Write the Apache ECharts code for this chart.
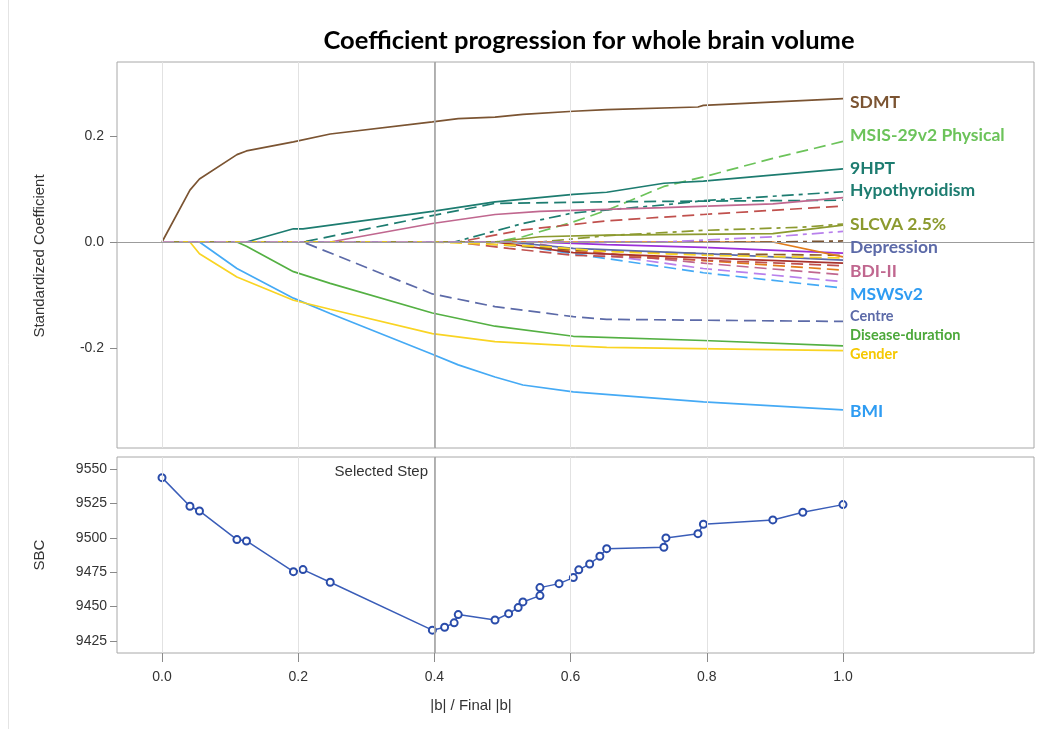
<!DOCTYPE html>
<html lang="en">
<head>
<meta charset="UTF-8">
<title>Coefficient progression for whole brain volume</title>
<script src="https://cdn.jsdelivr.net/npm/echarts@6.0.0/dist/echarts.min.js"></script>
<style>html,body{margin:0;padding:0;background:#fff;}</style>
</head>
<body>
<div id="main" style="width:1047px;height:729px;"></div>
<script>
// tick labels
var xTicks = [0, 0.2, 0.4, 0.6, 0.8, 1.0];
var coefTicks = [-0.2, 0, 0.2];
var sbcTicks = [9425, 9450, 9475, 9500, 9525, 9550];
var selectedStep = 0.4;

// SBC at each step
var sbcSteps = [0, 0.041, 0.055, 0.110, 0.124, 0.193, 0.207, 0.247, 0.397, 0.415, 0.429, 0.435, 0.489, 0.509, 0.523, 0.530,
    0.555, 0.555, 0.583, 0.604, 0.612, 0.628, 0.643, 0.653, 0.737, 0.740, 0.787, 0.795, 0.897, 0.941, 1.0];
var sbcValues = [9543.7, 9522.9, 9519.5, 9498.7, 9497.7, 9475.4, 9476.9, 9467.7, 9432.9, 9435.0, 9438.2, 9444.2, 9440.3, 9444.9, 9449.3, 9453.4,
    9458.0, 9463.8, 9466.7, 9471.1, 9476.7, 9481.0, 9486.6, 9492.1, 9493.1, 9499.9, 9503.0, 9509.8, 9513.0, 9518.6, 9524.1];

// coefficient paths [|b|/final |b|, standardized coefficient]
var sdmt = [[0,0],[0.041,0.098],[0.055,0.119],[0.110,0.165],[0.124,0.172],[0.193,0.189],[0.247,0.204],[0.397,0.227],[0.435,0.233],[0.489,0.236],[0.530,0.241],[0.604,0.247],[0.653,0.250],[0.787,0.255],[0.795,0.258],[1.0,0.271]];
var msis = [[0,0],[0.489,0],[0.530,0.010],[0.604,0.038],[0.653,0.060],[0.687,0.078],[0.737,0.105],[0.795,0.123],[0.897,0.158],[1.0,0.190]];
var hpt9 = [[0,0],[0.124,0],[0.193,0.025],[0.207,0.025],[0.397,0.058],[0.489,0.076],[0.604,0.090],[0.653,0.094],[0.737,0.111],[0.795,0.115],[1.0,0.138]];
var hypothyroidism = [[0,0],[0.429,0],[0.530,0.035],[0.604,0.055],[0.737,0.070],[0.795,0.078],[1.0,0.095]];
var tealDash = [[0,0],[0.207,0],[0.397,0.050],[0.489,0.073],[0.653,0.076],[1.0,0.079]];
var pinkSolid = [[0,0],[0.247,0],[0.397,0.035],[0.489,0.052],[0.555,0.058],[0.737,0.065],[0.897,0.072],[1.0,0.084]];
var redDashUp = [[0,0],[0.435,0],[0.530,0.023],[0.653,0.040],[0.795,0.052],[1.0,0.068]];
var slcva = [[0,0],[0.555,0],[0.653,0.012],[0.795,0.022],[0.941,0.028],[1.0,0.034]];
var oliveSolid = [[0,0],[0.489,0],[0.555,0.010],[0.653,0.013],[0.897,0.016],[1.0,0.032]];
var purpleDashDot = [[0,0],[0.737,0],[0.897,0.010],[1.0,0.020]];
var brownDashDot = [[0,0],[0.897,0],[1.0,0.002]];
var orangeSolid = [[0,0],[0.897,0],[1.0,-0.028]];
var purpleSolid = [[0,0],[0.555,0],[0.653,-0.005],[0.795,-0.010],[1.0,-0.021]];
var depression = [[0,0],[0.509,0],[0.604,-0.012],[0.795,-0.022],[1.0,-0.034]];
var yellowDash = [[0,0],[0.397,0],[0.555,-0.008],[0.653,-0.018],[0.795,-0.025],[1.0,-0.030]];
var orangeDash = [[0,0],[0.489,0],[0.604,-0.018],[0.795,-0.035],[1.0,-0.053]];
var bdi = [[0,0],[0.530,0],[0.653,-0.022],[0.795,-0.040],[1.0,-0.062]];
var lilacDash = [[0,0],[0.530,0],[0.653,-0.025],[0.795,-0.050],[1.0,-0.075]];
var msws = [[0,0],[0.489,0],[0.604,-0.022],[0.795,-0.058],[1.0,-0.087]];
var redDashDown = [[0,0],[0.429,0],[0.509,-0.012],[0.604,-0.025],[0.737,-0.031],[1.0,-0.045]];
var darkRed = [[0,0],[0.489,0],[0.604,-0.020],[0.795,-0.030],[1.0,-0.040]];
var brownDash = [[0,0],[0.435,0],[0.604,-0.015],[0.795,-0.022],[1.0,-0.025]];
var centre = [[0,0],[0.207,0],[0.397,-0.098],[0.489,-0.122],[0.604,-0.141],[0.653,-0.146],[1.0,-0.150]];
var diseaseDuration = [[0,0],[0.110,0],[0.124,-0.008],[0.193,-0.056],[0.247,-0.078],[0.397,-0.134],[0.489,-0.159],[0.604,-0.178],[0.795,-0.186],[1.0,-0.196]];
var gender = [[0,0],[0.041,0],[0.055,-0.022],[0.110,-0.066],[0.193,-0.110],[0.247,-0.127],[0.397,-0.173],[0.489,-0.188],[0.604,-0.196],[0.653,-0.199],[1.0,-0.205]];
var bmi = [[0,0],[0.055,0],[0.110,-0.050],[0.193,-0.106],[0.247,-0.135],[0.397,-0.212],[0.435,-0.232],[0.489,-0.255],[0.530,-0.270],[0.604,-0.283],[0.795,-0.302],[1.0,-0.317]];

var DASH = [12, 6], DASHDOT = [12, 5, 4, 5];

// drawing order: later ones sit on top at the zero line
var paths = [
    {name: 'SDMT', data: sdmt, color: '#7b5432', dash: 'solid'},
    {name: 'MSIS-29v2 Physical', data: msis, color: '#6cc35a', dash: DASH},
    {name: '9HPT', data: hpt9, color: '#1d7c70', dash: 'solid'},
    {name: 'Hypothyroidism', data: hypothyroidism, color: '#1d7c70', dash: DASHDOT},
    {name: 'teal dash', data: tealDash, color: '#1d7c70', dash: DASH},
    {name: 'pink', data: pinkSolid, color: '#c0678f', dash: 'solid'},
    {name: 'red up', data: redDashUp, color: '#c0504d', dash: DASH},
    {name: 'BMI', data: bmi, color: '#45aaf5', dash: 'solid'},
    {name: 'Gender', data: gender, color: '#f9d423', dash: 'solid'},
    {name: 'Disease-duration', data: diseaseDuration, color: '#54b043', dash: 'solid'},
    {name: 'Centre', data: centre, color: '#5c6aa8', dash: DASH},
    {name: 'MSWSv2', data: msws, color: '#45aaf5', dash: DASH},
    {name: 'lilac', data: lilacDash, color: '#b880ec', dash: DASH},
    {name: 'BDI-II', data: bdi, color: '#c0678f', dash: DASH},
    {name: 'orange dash', data: orangeDash, color: '#e07b1a', dash: DASH},
    {name: 'dark red', data: darkRed, color: '#a8322c', dash: 'solid'},
    {name: 'red down', data: redDashDown, color: '#c0504d', dash: DASH},
    {name: 'brown dash', data: brownDash, color: '#8b5a2b', dash: DASH},
    {name: 'Depression', data: depression, color: '#5c6aa8', dash: 'solid'},
    {name: 'purple', data: purpleSolid, color: '#9b30d9', dash: 'solid'},
    {name: 'orange', data: orangeSolid, color: '#e07b1a', dash: 'solid'},
    {name: 'brown dashdot', data: brownDashDot, color: '#7b5432', dash: DASHDOT},
    {name: 'SLCVA 2.5%', data: slcva, color: '#8c9a2f', dash: DASHDOT},
    {name: 'olive', data: oliveSolid, color: '#8c9a2f', dash: 'solid'},
    {name: 'yellow dash', data: yellowDash, color: '#f9d423', dash: DASH},
    {name: 'purple dashdot', data: purpleDashDot, color: '#b880ec', dash: DASHDOT}
];

var labelFont = 'bold 17.5px Lato';
var smallFont = 'bold 14.5px Lato';
var sideLabels = [
    {text: 'SDMT', y: 102, color: '#7b5432', font: labelFont},
    {text: 'MSIS-29v2 Physical', y: 135, color: '#6cc35a', font: labelFont},
    {text: '9HPT', y: 168, color: '#1d7c70', font: labelFont},
    {text: 'Hypothyroidism', y: 190, color: '#1d7c70', font: labelFont},
    {text: 'SLCVA 2.5%', y: 224, color: '#8c9a2f', font: labelFont},
    {text: 'Depression', y: 247, color: '#5c6aa8', font: labelFont},
    {text: 'BDI-II', y: 271, color: '#c0678f', font: labelFont},
    {text: 'MSWSv2', y: 294, color: '#2f9cf2', font: labelFont},
    {text: 'Centre', y: 316, color: '#5c6aa8', font: smallFont},
    {text: 'Disease-duration', y: 335, color: '#4ca83a', font: smallFont},
    {text: 'Gender', y: 354, color: '#f5c800', font: smallFont},
    {text: 'BMI', y: 411, color: '#2f9cf2', font: labelFont}
];

var myChart = echarts.init(document.getElementById('main'));

var xMin = -0.0661, xMax = 1.2805;
function ticks(vals, len) {
    return {show: true, customValues: vals, length: len, lineStyle: {color: '#8a8a8a'}};
}
function labels(vals, margin, fmt) {
    return {customValues: vals, margin: margin, formatter: fmt, color: '#333', fontSize: 14, fontFamily: 'Liberation Sans'};
}
var oneDecimal = function (v) { return v.toFixed(1); };
var plain = function (v) { return String(v); };

function gridLines(extra) {
    var data = xTicks.map(function (v) {
        return {xAxis: v, lineStyle: {color: '#e2e2e2', width: 1, type: 'solid'}};
    });
    data.push({xAxis: selectedStep, lineStyle: {color: '#9c9c9c', width: 1.5, type: 'solid'}});
    return {
        silent: true,
        symbol: ['none', 'none'],
        label: {show: false},
        animation: false,
        data: data.concat(extra || [])
    };
}

var series = [
    {
        type: 'line', xAxisIndex: 0, yAxisIndex: 0, data: [], z: 1,
        markLine: gridLines([{yAxis: 0, lineStyle: {color: '#9c9c9c', width: 1.2, type: 'solid'}}])
    },
    {
        type: 'line', xAxisIndex: 1, yAxisIndex: 1, data: [], z: 1,
        markLine: gridLines()
    }
];

paths.forEach(function (p) {
    series.push({
        name: p.name,
        type: 'line',
        xAxisIndex: 0,
        yAxisIndex: 0,
        data: p.data,
        showSymbol: false,
        symbol: 'none',
        z: 3,
        lineStyle: {color: p.color, width: 1.7, type: p.dash}
    });
});

series.push({
    name: 'SBC',
    type: 'line',
    xAxisIndex: 1,
    yAxisIndex: 1,
    data: sbcSteps.map(function (x, i) { return [x, sbcValues[i]]; }),
    symbol: 'emptyCircle',
    symbolSize: 7,
    z: 3,
    lineStyle: {color: '#3a5db8', width: 1.5},
    itemStyle: {color: '#2a4caa', borderWidth: 1.6}
});

var graphics = [
    {type: 'line', shape: {x1: 8.5, y1: 0, x2: 8.5, y2: 729}, style: {stroke: '#e4e4e4', lineWidth: 1}},
    {type: 'text', x: 589, y: 41, style: {text: 'Coefficient progression for whole brain volume', font: 'bold 25.5px Lato', fill: '#000', align: 'center', verticalAlign: 'middle'}},
    {type: 'text', x: 40, y: 256, rotation: Math.PI / 2, style: {text: 'Standardized Coefficient', font: '15px "Liberation Sans"', fill: '#333', align: 'center', verticalAlign: 'middle'}},
    {type: 'text', x: 40, y: 555, rotation: Math.PI / 2, style: {text: 'SBC', font: '15px "Liberation Sans"', fill: '#333', align: 'center', verticalAlign: 'middle'}},
    {type: 'text', x: 471, y: 706, style: {text: '|b| / Final |b|', font: '15px "Liberation Sans"', fill: '#333', align: 'center', verticalAlign: 'middle'}},
    {type: 'text', x: 428, y: 472, style: {text: 'Selected Step', font: '15px "Liberation Sans"', fill: '#333', align: 'right', verticalAlign: 'middle'}}
];
sideLabels.forEach(function (l) {
    graphics.push({type: 'text', x: 850, y: l.y, z: 10, style: {text: l.text, font: l.font, fill: l.color, align: 'left', verticalAlign: 'middle'}});
});

var option = {
    animation: false,
    backgroundColor: '#fff',
    grid: [
        {left: 117, top: 62, width: 917, height: 386, show: true, borderColor: '#a8a8a8', borderWidth: 1},
        {left: 117, top: 457, width: 917, height: 196, show: true, borderColor: '#a8a8a8', borderWidth: 1}
    ],
    xAxis: [
        {
            type: 'value', gridIndex: 0, min: xMin, max: xMax,
            axisLine: {show: false, onZero: false}, axisTick: {show: false}, axisLabel: {show: false}, splitLine: {show: false}
        },
        {
            type: 'value', gridIndex: 1, min: xMin, max: xMax, position: 'bottom',
            axisLine: {show: false, onZero: false},
            axisTick: ticks(xTicks, 9),
            axisLabel: labels(xTicks, 17, oneDecimal),
            splitLine: {show: false}
        }
    ],
    yAxis: [
        {
            type: 'value', gridIndex: 0, min: -0.389, max: 0.34, position: 'left',
            axisLine: {show: false, onZero: false},
            axisTick: ticks(coefTicks, 7),
            axisLabel: labels(coefTicks, 13, oneDecimal),
            splitLine: {show: false}
        },
        {
            type: 'value', gridIndex: 1, min: 9416.3, max: 9558.7, position: 'left',
            axisLine: {show: false, onZero: false},
            axisTick: ticks(sbcTicks, 7),
            axisLabel: labels(sbcTicks, 10, plain),
            splitLine: {show: false}
        }
    ],
    graphic: graphics,
    series: series
};

myChart.setOption(option);
</script>
</body>
</html>
